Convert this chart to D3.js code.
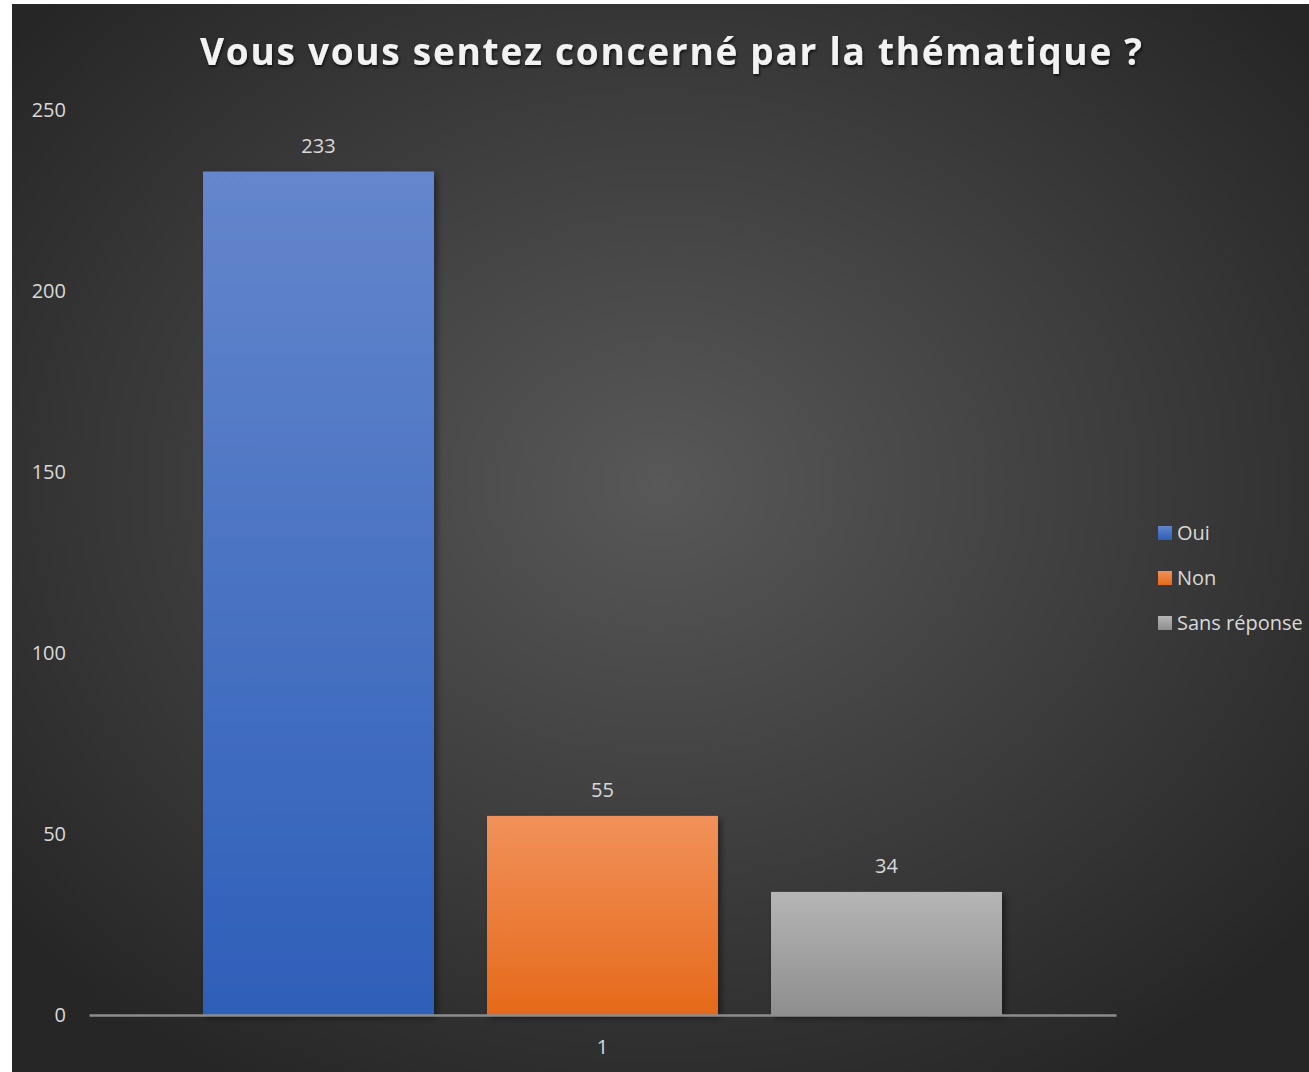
<!DOCTYPE html>
<html lang="fr">
<head>
  <meta charset="utf-8">
  <title>Vous vous sentez concerné par la thématique ?</title>
  <script src="https://cdn.jsdelivr.net/npm/d3@7"></script>
  <style>
    html, body { margin: 0; padding: 0; background: #fff; }
    text { font-family: "Open Sans", "Noto Sans", sans-serif; }
  </style>
</head>
<body>
  <svg width="1309" height="1072"></svg>
  <script>
    const categories = ["1"];
    const seriesNames = ["Oui", "Non", "Sans réponse"];
    const seriesValues = [233, 55, 34];
    const yTicks = [0, 50, 100, 150, 200, 250];
    const seriesColors = [
      ["#6486cc", "#2e5fb9"],
      ["#f1915a", "#e5691a"],
      ["#b5b5b5", "#8e8e8e"]
    ];

    const svg = d3.select("svg");
    const defs = svg.append("defs");

    // dark radial background
    const bg = defs.append("radialGradient")
      .attr("id", "bg")
      .attr("cx", "50%").attr("cy", "45%").attr("r", "65%");
    bg.append("stop").attr("offset", "0%").attr("stop-color", "#585858");
    bg.append("stop").attr("offset", "100%").attr("stop-color", "#262626");

    seriesColors.forEach((c, i) => {
      const g = defs.append("linearGradient")
        .attr("id", "bar" + i)
        .attr("x1", 0).attr("y1", 0).attr("x2", 0).attr("y2", 1);
      g.append("stop").attr("offset", "0%").attr("stop-color", c[0]);
      g.append("stop").attr("offset", "100%").attr("stop-color", c[1]);
    });

    const shadow = defs.append("filter").attr("id", "shadow")
      .attr("x", "-10%").attr("y", "-10%").attr("width", "130%").attr("height", "130%");
    shadow.append("feDropShadow")
      .attr("dx", 3).attr("dy", 3).attr("stdDeviation", 3)
      .attr("flood-color", "#000").attr("flood-opacity", 0.45);

    const tshadow = defs.append("filter").attr("id", "tshadow");
    tshadow.append("feDropShadow")
      .attr("dx", 1).attr("dy", 2).attr("stdDeviation", 1.5)
      .attr("flood-color", "#000").attr("flood-opacity", 0.7);

    svg.append("rect")
      .attr("x", 12).attr("y", 4)
      .attr("width", 1297).attr("height", 1068)
      .attr("fill", "url(#bg)");

    const margin = { left: 89, right: 1116, top: 110, bottom: 1015 };

    const y = d3.scaleLinear().domain([0, 250]).range([margin.bottom, margin.top]);
    const x0 = d3.scaleBand().domain(categories).range([margin.left, margin.right]).paddingInner(0).paddingOuter(0.1427);
    const x1 = d3.scaleBand().domain(seriesNames).range([0, x0.bandwidth()]).paddingInner(0.1866);

    // y axis labels only
    const yAxis = svg.append("g")
      .attr("transform", `translate(${margin.left - 23},0)`)
      .call(d3.axisLeft(y).tickValues(yTicks).tickSize(0).tickPadding(0));
    yAxis.select(".domain").remove();
    yAxis.selectAll("text")
      .attr("fill", "#d9d9d9")
      .style("font-size", "20px");

    // bars
    const groups = svg.append("g")
      .selectAll("g")
      .data(categories)
      .join("g")
      .attr("transform", d => `translate(${x0(d)},0)`);

    groups.selectAll("rect")
      .data(() => seriesNames.map((s, i) => ({ name: s, value: seriesValues[i], i: i })))
      .join("rect")
      .attr("x", d => x1(d.name))
      .attr("y", d => y(d.value))
      .attr("width", x1.bandwidth())
      .attr("height", d => y(0) - y(d.value))
      .attr("fill", d => `url(#bar${d.i})`)
      .attr("filter", "url(#shadow)");

    groups.selectAll("text.val")
      .data(() => seriesNames.map((s, i) => ({ name: s, value: seriesValues[i] })))
      .join("text")
      .attr("class", "val")
      .attr("x", d => x1(d.name) + x1.bandwidth() / 2)
      .attr("y", d => y(d.value) - 19)
      .attr("text-anchor", "middle")
      .attr("fill", "#d9d9d9")
      .style("font-size", "20px")
      .text(d => d.value);

    // x axis
    const xAxis = svg.append("g")
      .attr("transform", `translate(0,${y(0)})`)
      .call(d3.axisBottom(x0).tickSize(0).tickPadding(25));
    xAxis.select(".domain")
      .attr("stroke", "#8c8c8c")
      .attr("stroke-width", 2.5);
    xAxis.selectAll("text")
      .attr("fill", "#d9d9d9")
      .style("font-size", "20px");

    // title
    svg.append("text")
      .attr("x", 671)
      .attr("y", 65)
      .attr("text-anchor", "middle")
      .attr("fill", "#f2f2f2")
      .attr("filter", "url(#tshadow)")
      .attr("textLength", 942)
      .attr("lengthAdjust", "spacing")
      .style("font-size", "37px")
      .style("font-weight", "bold")
      .text("Vous vous sentez concerné par la thématique ?");

    // legend
    const legend = svg.append("g")
      .selectAll("g")
      .data(seriesNames)
      .join("g")
      .attr("transform", (d, i) => `translate(1158,${533 + i * 45})`);

    legend.append("rect")
      .attr("x", 0).attr("y", -7)
      .attr("width", 14).attr("height", 14)
      .attr("fill", (d, i) => `url(#bar${i})`);

    legend.append("text")
      .attr("x", 19)
      .attr("y", 7)
      .attr("fill", "#d9d9d9")
      .style("font-size", "20px")
      .text(d => d);
  </script>
</body>
</html>
